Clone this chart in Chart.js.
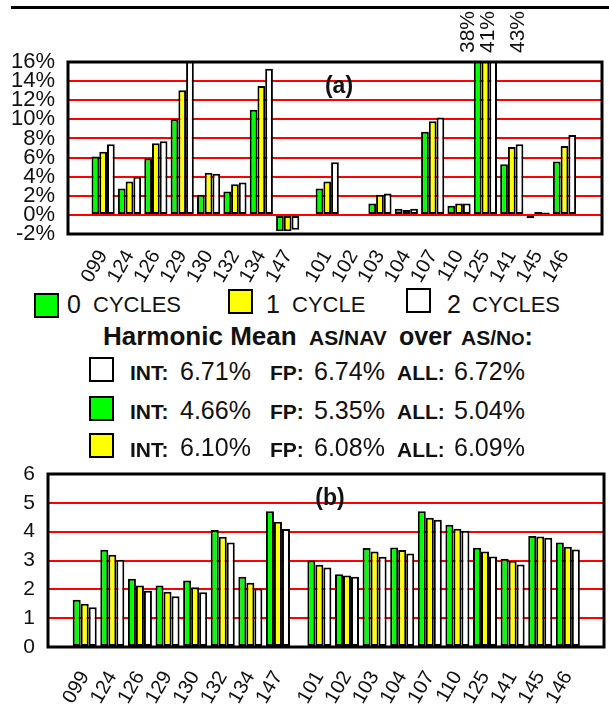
<!DOCTYPE html>
<html>
<head>
<meta charset="utf-8">
<script src="https://cdn.jsdelivr.net/npm/chart.js@4.4.1/dist/chart.umd.min.js"></script>
<style>
body{margin:0;background:#fff;width:609px;height:713px;position:relative;overflow:hidden;font-family:"Liberation Sans",Arial,sans-serif;color:#111}
.abs{position:absolute;white-space:pre;line-height:1}
.sw{position:absolute;width:21px;height:21px;border:2px solid #000}
canvas{position:absolute;left:0}
</style>
</head>
<body>
<div style="position:absolute;left:11px;top:6px;width:598px;height:3px;background:#000"></div>
<canvas id="chartA" width="609" height="285" style="top:0"></canvas>
<canvas id="chartB" width="609" height="273" style="top:440px"></canvas>
<script>
// benchmarks: integer ones, then floating point ones (half slot gap between)
var intNames = ['099','124','126','129','130','132','134','147'];
var fpNames  = ['101','102','103','104','107','110','125','141','145','146'];
var names = intNames.concat(fpNames);

var seriesNames  = ['0 CYCLES','1 CYCLE','2 CYCLES'];
var seriesColors = ['#00ff00','#ffff00','#ffffff'];

// (a) speedup in %
var speed0 = [6.1, 2.75, 5.9, 10.0, 2.1, 2.45, 11.0, -1.7, 2.75, null, 1.2, 0.65, 8.7, 0.95, 38, 5.3, -0.35, 5.6];
var speed1 = [6.6, 3.5, 7.5, 13.05, 4.4, 3.2, 13.5, -1.7, 3.5, null, 2.1, 0.5, 9.8, 1.2, 41, 7.1, 0.3, 7.2];
var speed2 = [7.4, 4.0, 7.7, 16.4, 4.3, 3.4, 15.3, -1.55, 5.5, null, 2.25, 0.65, 10.2, 1.2, 43, 7.4, 0.25, 8.35];

// (b)
var ipc0 = [1.64, 3.37, 2.37, 2.13, 2.31, 4.06, 2.44, 4.71, 3.0, 2.52, 3.43, 3.45, 4.71, 4.24, 3.44, 3.06, 3.85, 3.62];
var ipc1 = [1.5, 3.2, 2.13, 1.92, 2.07, 3.82, 2.23, 4.34, 2.85, 2.48, 3.31, 3.36, 4.48, 4.1, 3.31, 2.99, 3.83, 3.48];
var ipc2 = [1.38, 3.03, 1.95, 1.76, 1.9, 3.62, 2.03, 4.09, 2.76, 2.44, 3.13, 3.24, 4.41, 4.03, 3.14, 2.86, 3.79, 3.38];

// harmonic means, rows in order white, green, yellow
var hmSeries = [2, 0, 1];
var hmInt = ['6.71%', '4.66%', '6.10%'];
var hmFp  = ['6.74%', '5.35%', '6.08%'];
var hmAll = ['6.72%', '5.04%', '6.09%'];

var pos = names.map(function (n, i) { return i < intNames.length ? i : i + 0.5; });

Chart.defaults.font.family = '"Liberation Sans", Arial, sans-serif';
Chart.defaults.font.size = 20;
Chart.defaults.color = '#111';

function makeSets(series, pct) {
  return series.map(function (vals, k) {
    return {
      label: seriesNames[k],
      data: vals.map(function (v, i) { return {x: pos[i], y: v}; }),
      backgroundColor: seriesColors[k],
      borderColor: '#000',
      borderWidth: 2,
      borderSkipped: false,
      categoryPercentage: pct,
      barPercentage: 1
    };
  });
}

var boxPlugin = {
  id: 'box',
  afterDraw: function (chart, args, opts) {
    var ctx = chart.ctx, a = chart.chartArea;
    ctx.save();
    ctx.strokeStyle = '#000';
    ctx.lineWidth = 3;
    ctx.strokeRect(a.left, a.top, a.right - a.left, a.bottom - a.top);
    ctx.fillStyle = '#111';
    ctx.font = 'bold 23px "Liberation Sans"';
    ctx.textAlign = 'center';
    ctx.textBaseline = 'middle';
    ctx.fillText(opts.title, opts.tx, opts.ty);
    // values far off the scale are written above the box
    if (opts.offScale) {
      var xs = chart.scales.x;
      ctx.font = '21px "Liberation Sans"';
      ctx.textAlign = 'left';
      chart.data.datasets.forEach(function (ds, k) {
        ds.data.forEach(function (p) {
          if (p.y != null && p.y > opts.offScale) {
            ctx.save();
            ctx.translate(xs.getPixelForValue(p.x) + opts.offX[k], a.top - 9);
            ctx.rotate(-Math.PI / 2);
            ctx.fillText(p.y + '%', 0, 0);
            ctx.restore();
          }
        });
      });
    }
    ctx.restore();
  }
};

function makeChart(id, series, cfg) {
  return new Chart(document.getElementById(id), {
    type: 'bar',
    data: {datasets: makeSets(series, cfg.pct)},
    options: {
      responsive: false,
      animation: false,
      devicePixelRatio: 1,
      layout: {padding: {top: cfg.top, right: cfg.right, left: 0, bottom: 0}},
      plugins: {legend: {display: false}, tooltip: {enabled: false}, box: cfg.box},
      scales: {
        x: {
          type: 'linear', min: cfg.xmin, max: cfg.xmax,
          grid: {display: false}, border: {display: false},
          afterBuildTicks: function (s) { s.ticks = pos.map(function (v) { return {value: v}; }); },
          afterFit: function (s) { s.height = cfg.xh; },
          ticks: {autoSkip: false, minRotation: 60, maxRotation: 60, padding: cfg.xpad,
                  font: {size: 20}, callback: function (v, i) { return names[i]; }}
        },
        y: {
          min: cfg.ymin, max: cfg.ymax,
          afterFit: function (s) { s.width = cfg.yw; },
          border: {display: false},
          grid: {drawTicks: false, lineWidth: 2, color: function (c) {
            return (c.tick.value > cfg.ymin && c.tick.value < cfg.ymax) ? '#ff0000' : 'rgba(0,0,0,0)';
          }},
          ticks: {autoSkip: false, stepSize: cfg.step, padding: 13, font: {size: cfg.yfont}, callback: cfg.fmt}
        }
      }
    },
    plugins: [boxPlugin]
  });
}

makeChart('chartA', [speed0, speed1, speed2], {
  pct: 0.88, top: 62, right: 7, xmin: -0.77, xmax: 18.36, xh: 51, xpad: 4,
  ymin: -2, ymax: 16, step: 2, yw: 68, yfont: 22,
  fmt: function (v) { return v + '%'; },
  box: {title: '(a)', tx: 339, ty: 87, offScale: 20, offX: [-17, 3, 33]}
});

makeChart('chartB', [ipc0, ipc1, ipc2], {
  pct: 0.87, top: 34, right: 5, xmin: -0.77, xmax: 18.25, xh: 66, xpad: 12,
  ymin: 0, ymax: 6, step: 1, yw: 48, yfont: 21,
  fmt: function (v) { return v; },
  box: {title: '(b)', tx: 330, ty: 59}
});

// legend and harmonic means as page text
function put(html, x, base, size, bold) {
  var d = document.createElement('div');
  d.className = 'abs';
  d.innerHTML = html;
  d.style.left = x + 'px';
  d.style.top = (base - 0.8465 * size) + 'px';
  d.style.fontSize = size + 'px';
  if (bold) d.style.fontWeight = 'bold';
  document.body.appendChild(d);
}
function swatch(x, y, k) {
  var d = document.createElement('div');
  d.className = 'sw';
  d.style.left = x + 'px';
  d.style.top = y + 'px';
  d.style.background = seriesColors[k];
  document.body.appendChild(d);
}

var legX = [34, 228, 406], legY = [293, 289, 288];
var numX = [67, 266, 447], wordX = [93, 292, 472];
seriesNames.forEach(function (n, k) {
  var parts = n.split(' ');
  swatch(legX[k], legY[k], k);
  put(parts[0], numX[k], 313, 25);
  put(parts[1], wordX[k], 313, 22);
});

put('Harmonic Mean', 103, 345, 26, true);
put('<span style="font-size:21px">AS/NAV</span>', 309, 345, 26, true);
put('over', 399, 345, 25, true);
put('<span style="font-size:21px">AS/N</span><span style="font-size:17px">O</span>:', 461, 345, 25, true);

var rowBase = [380, 419, 456.5], rowSw = [357, 396, 433];
hmSeries.forEach(function (k, r) {
  swatch(89, rowSw[r], k);
  put('INT:', 130, rowBase[r], 21, true);
  put(hmInt[r], 180, rowBase[r], 25);
  put('FP:', 270, rowBase[r], 21, true);
  put(hmFp[r], 314, rowBase[r], 25);
  put('ALL:', 397, rowBase[r], 21, true);
  put(hmAll[r], 454, rowBase[r], 25);
});
</script>
</body>
</html>
